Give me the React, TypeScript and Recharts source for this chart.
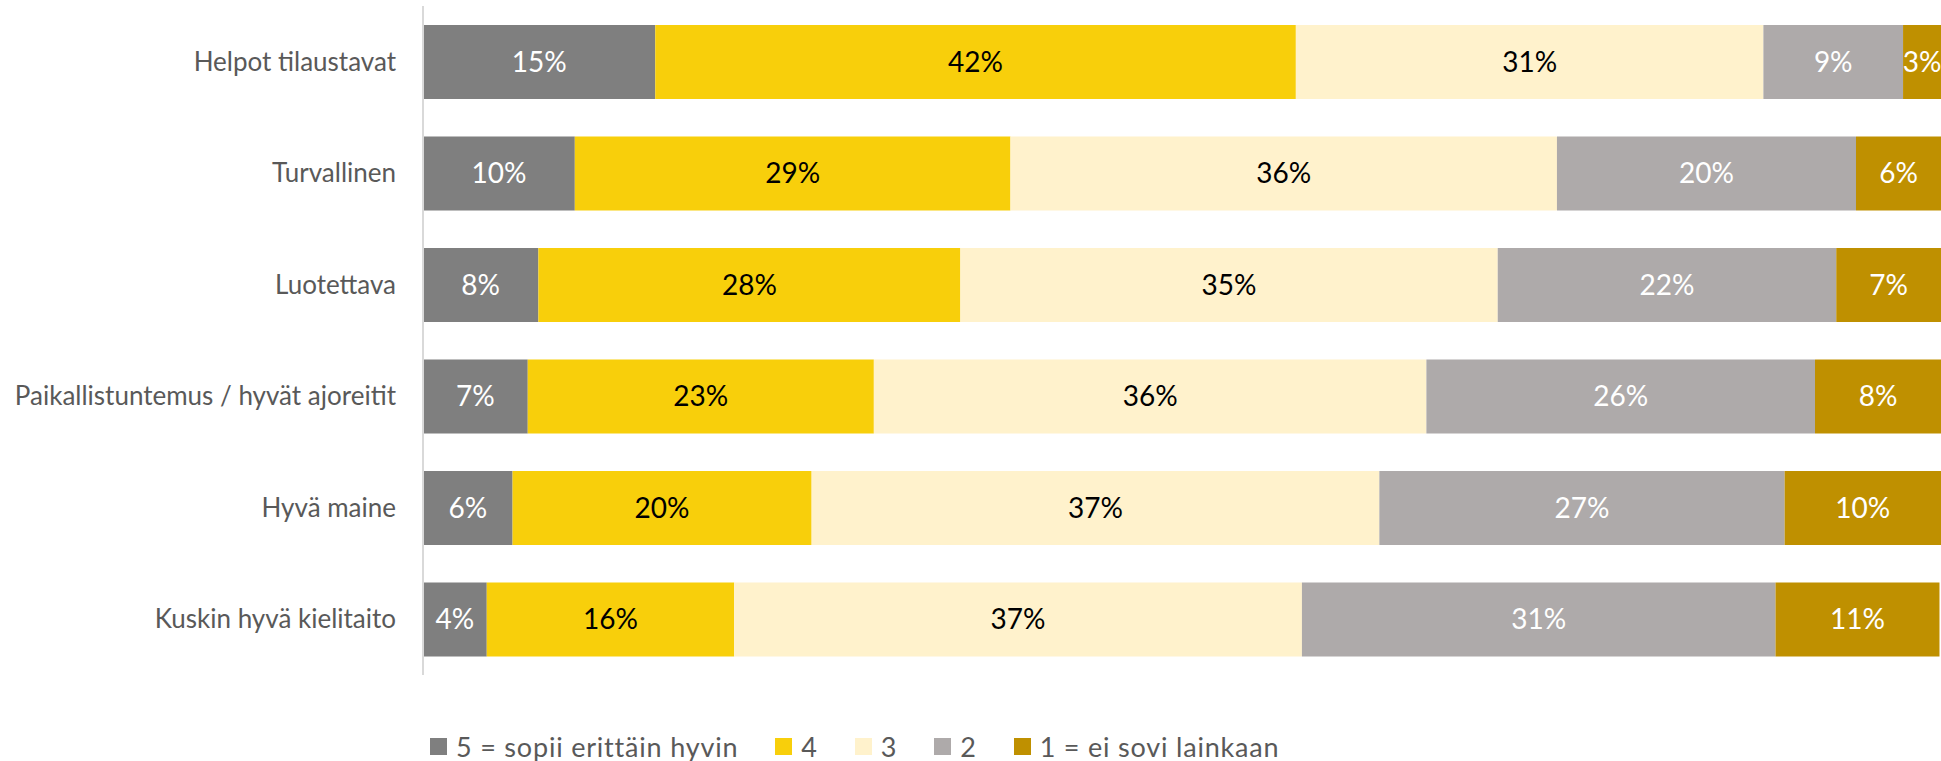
import { BarChart, Bar, XAxis, YAxis, LabelList, Legend } from 'recharts'

const categories = [
  'Helpot tilaustavat',
  'Turvallinen',
  'Luotettava',
  'Paikallistuntemus / hyvät ajoreitit',
  'Hyvä maine',
  'Kuskin hyvä kielitaito',
]

// share of answers per rating, in percent
const rating5 = [15.3, 10.0, 7.6, 6.9, 5.9, 4.2]
const rating4 = [42.2, 28.7, 27.8, 22.8, 19.7, 16.3]
const rating3 = [30.8, 36.0, 35.4, 36.4, 37.4, 37.4]
const rating2 = [9.2, 19.7, 22.3, 25.6, 26.7, 31.2]
const rating1 = [2.5, 5.6, 6.9, 8.3, 10.3, 10.8]

const series = [
  { key: 'r5', name: '5 = sopii erittäin hyvin', color: '#7F7F7F', text: '#FFFFFF', values: rating5 },
  { key: 'r4', name: '4', color: '#F8CF0B', text: '#000000', values: rating4 },
  { key: 'r3', name: '3', color: '#FFF2CC', text: '#000000', values: rating3 },
  { key: 'r2', name: '2', color: '#AEAAAA', text: '#FFFFFF', values: rating2 },
  { key: 'r1', name: '1 = ei sovi lainkaan', color: '#BF9000', text: '#FFFFFF', values: rating1 },
]

const data = categories.map((name, i) => {
  const row: Record<string, string | number> = { name }
  series.forEach((s) => {
    row[s.key] = s.values[i]
  })
  return row
})

const FONT = 'Lato, "Open Sans", sans-serif'

function LegendContent() {
  return (
    <div style={{ display: 'flex', alignItems: 'center', fontFamily: FONT, fontSize: 27, letterSpacing: 0.8, color: '#595959', whiteSpace: 'nowrap' }}>
      {series.map((s) => (
        <div key={s.key} style={{ display: 'flex', alignItems: 'center', marginRight: 37 }}>
          <div style={{ width: 17, height: 17, background: s.color, marginRight: 9 }} />
          <span>{s.name}</span>
        </div>
      ))}
    </div>
  )
}

export default function App() {
  return (
    <div style={{ position: 'absolute', left: 0, top: 0, background: '#fff' }}>
      <BarChart
        width={1941}
        height={761}
        data={data}
        layout="vertical"
        margin={{ top: 6, right: 0, bottom: 86, left: 0 }}
        barSize={74}
      >
        <XAxis type="number" domain={[0, 100]} hide />
        <YAxis
          type="category"
          dataKey="name"
          width={423}
          axisLine={{ stroke: '#D9D9D9', strokeWidth: 2 }}
          tickLine={false}
          tickSize={0}
          tickMargin={27}
          tick={{ fill: '#595959', fontSize: 26, fontFamily: FONT }}
          interval={0}
        />
        <Legend
          layout="horizontal"
          verticalAlign="middle"
          align="center"
          wrapperStyle={{ top: 730, left: 430, width: 'auto', height: 'auto' }}
          content={() => <LegendContent />}
        />
        {series.map((s) => (
          <Bar key={s.key} dataKey={s.key} name={s.name} stackId="a" fill={s.color} isAnimationActive={false}>
            <LabelList
              dataKey={s.key}
              position="center"
              formatter={(v: number) => `${Math.round(v)}%`}
              fill={s.text}
              fontSize={28}
              fontFamily={FONT}
            />
          </Bar>
        ))}
      </BarChart>
    </div>
  )
}
